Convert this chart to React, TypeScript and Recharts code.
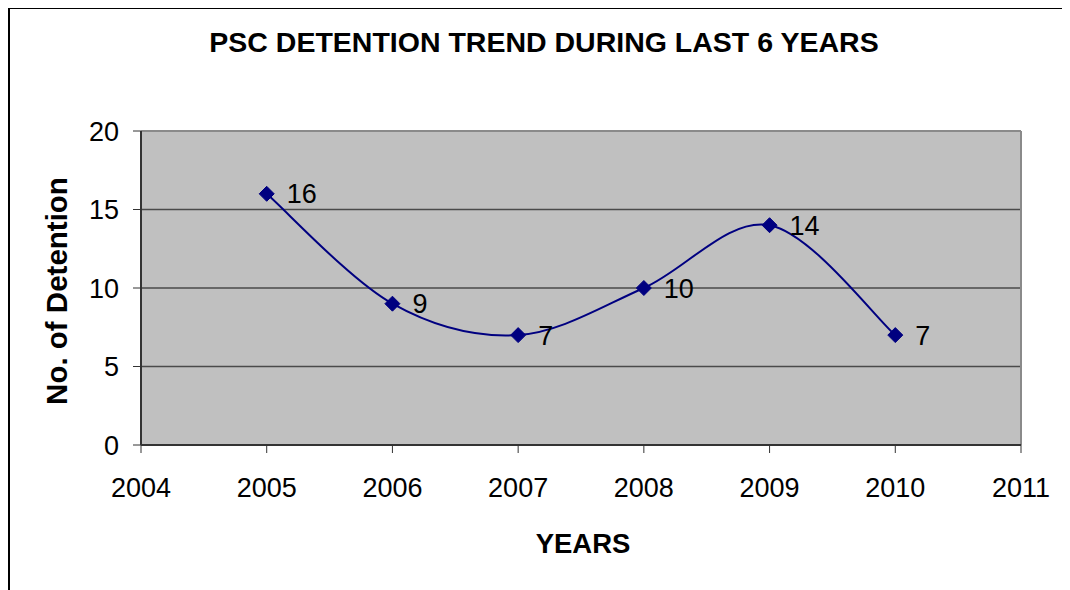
import React from "react";
import {
  LineChart,
  Line,
  XAxis,
  YAxis,
  CartesianGrid,
  ReferenceLine,
  LabelList,
} from "recharts";

const years = [2005, 2006, 2007, 2008, 2009, 2010];
const detentions = [16, 9, 7, 10, 14, 7];
const xTicks = [2004, 2005, 2006, 2007, 2008, 2009, 2010, 2011];
const yTicks = [0, 5, 10, 15, 20];

const data = years.map((y, i) => ({ year: y, value: detentions[i] }));

const FONT = "'Liberation Sans', Arial, sans-serif";

// Excel-like smoothed line (Catmull-Rom through every point)
const smoothCurve = (context: any) => {
  let pts: number[][] = [];
  return {
    areaStart() {},
    areaEnd() {},
    lineStart() {
      pts = [];
    },
    point(x: number, y: number) {
      pts.push([+x, +y]);
    },
    lineEnd() {
      if (!pts.length) return;
      context.moveTo(pts[0][0], pts[0][1]);
      for (let i = 0; i < pts.length - 1; i++) {
        const p0 = pts[i - 1] || pts[i];
        const p1 = pts[i];
        const p2 = pts[i + 1];
        const p3 = pts[i + 2] || pts[i + 1];
        context.bezierCurveTo(
          p1[0] + (p2[0] - p0[0]) / 6,
          p1[1] + (p2[1] - p0[1]) / 6,
          p2[0] - (p3[0] - p1[0]) / 6,
          p2[1] - (p3[1] - p1[1]) / 6,
          p2[0],
          p2[1]
        );
      }
    },
  };
};

const Diamond = (props: any) => {
  const { cx, cy, index } = props;
  if (cx == null || cy == null) return null;
  const r = 7.5;
  return (
    <path
      key={`d-${index}`}
      d={`M${cx},${cy - r}L${cx + r},${cy}L${cx},${cy + r}L${cx - r},${cy}Z`}
      fill="#000080"
      stroke="#000080"
    />
  );
};

export default function App() {
  return (
    <div
      style={{
        position: "relative",
        width: 1060,
        height: 581,
        borderTop: "2px solid #000",
        borderLeft: "2px solid #000",
        marginTop: -1,
        fontFamily: FONT,
        overflow: "hidden",
      }}
    >
      <style>{`html, body { overflow: hidden; }`}</style>
      <div
        style={{
          position: "absolute",
          left: 0,
          width: 1060,
          boxSizing: "border-box",
          paddingLeft: 8,
          top: 17,
          textAlign: "center",
          fontWeight: "bold",
          fontSize: 28.5,
        }}
      >
        PSC DETENTION TREND DURING LAST 6 YEARS
      </div>
      <div
        style={{
          position: "absolute",
          left: 47 - 150,
          top: 265,
          width: 300,
          textAlign: "center",
          fontWeight: "bold",
          fontSize: 29.5,
          transform: "rotate(-90deg)",
        }}
      >
        No. of Detention
      </div>
      <div
        style={{
          position: "absolute",
          left: 473,
          width: 200,
          top: 519,
          textAlign: "center",
          fontWeight: "bold",
          fontSize: 27.5,
        }}
      >
        YEARS
      </div>
      <div style={{ position: "absolute", left: 0, top: 0 }}>
        <LineChart
          width={1060}
          height={572}
          data={data}
          margin={{ top: 122, right: 49, left: 49, bottom: 76 }}
        >
          <CartesianGrid
            vertical={false}
            fill="#c0c0c0"
            stroke="#4a4a4a"
            strokeWidth={1.5}
          />
          <ReferenceLine y={20} stroke="#8a8a8a" strokeWidth={2} />
          <ReferenceLine x={2011} stroke="#8a8a8a" strokeWidth={2} />
          <XAxis
            dataKey="year"
            type="number"
            domain={[2004, 2011]}
            ticks={xTicks}
            allowDecimals={false}
            height={60}
            tickSize={8}
            tickMargin={25}
            axisLine={{ stroke: "#333", strokeWidth: 2 }}
            tickLine={{ stroke: "#333", strokeWidth: 1 }}
            tick={{ fill: "#000", fontSize: 27, fontFamily: FONT }}
            interval={0}
          />
          <YAxis
            type="number"
            domain={[0, 20]}
            ticks={yTicks}
            width={82}
            tickSize={8}
            tickMargin={14}
            axisLine={{ stroke: "#333", strokeWidth: 2 }}
            tickLine={{ stroke: "#333", strokeWidth: 1 }}
            tick={{ fill: "#000", fontSize: 27, fontFamily: FONT }}
            interval={0}
          />
          <Line
            dataKey="value"
            type={smoothCurve as any}
            stroke="#000080"
            strokeWidth={2}
            dot={Diamond}
            activeDot={false}
            isAnimationActive={false}
          >
            <LabelList
              dataKey="value"
              position="right"
              offset={20}
              fill="#000"
              fontSize={27}
              fontFamily={FONT}
            />
          </Line>
        </LineChart>
      </div>
    </div>
  );
}
